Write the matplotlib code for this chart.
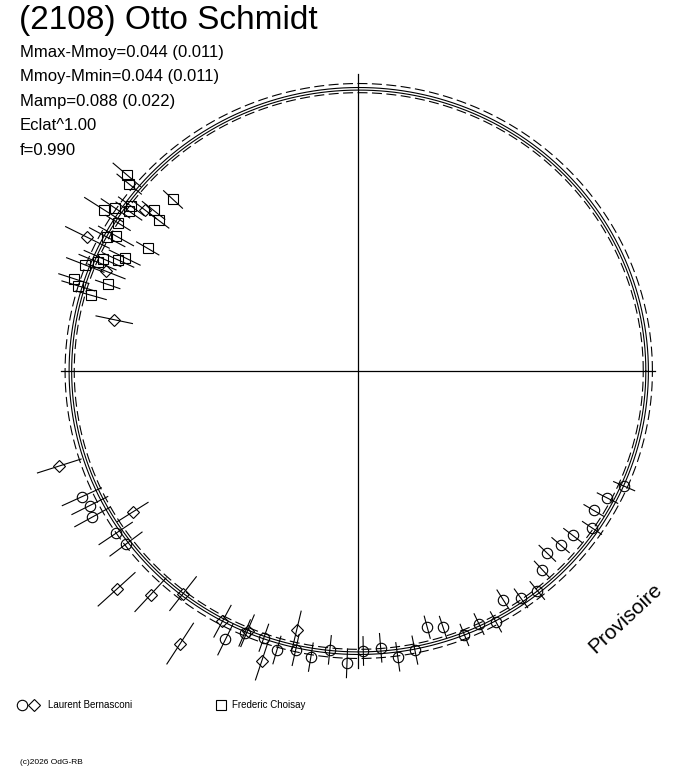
import numpy as np
import matplotlib
matplotlib.use('Agg')
import matplotlib.pyplot as plt

plt.rcParams['font.family'] = ['Liberation Sans', 'DejaVu Sans']

W, H = 688, 768
CX, CY = 358, 371   # pole of the diagram, pixels from top-left
SCALE = 286         # pixels for a relative brightness of 1
R_AXIS = 297 / SCALE

title = '(2108) Otto Schmidt'
stats = ['Mmax-Mmoy=0.044 (0.011)', 'Mmoy-Mmin=0.044 (0.011)',
         'Mamp=0.088 (0.022)', 'Eclat^1.00', 'f=0.990']
observers = ['Laurent Bernasconi', 'Frederic Choisay']

# fourier fit of the relative brightness vs phase
fit_mean = 1.0
fit_cos = [0.0026, 0.0108]
fit_sin = [0.0, 0.0]
fit_sigma = 0.016
fit_shift = [0.002, -0.007]   # the two solid curves

# Laurent Bernasconi, session 1 (circles)
lb1_phase = [0.568, 0.574, 0.580, 0.594, 0.602, 0.677, 0.685, 0.696, 0.705, 0.715,
             0.724, 0.734, 0.744, 0.753, 0.763, 0.772, 0.782, 0.792, 0.801, 0.811,
             0.821, 0.830, 0.840, 0.849, 0.859, 0.869, 0.878, 0.887, 0.896, 0.906,
             0.915, 0.925, 0.935]
lb1_flux = [1.061, 1.049, 1.060, 1.020, 1.012, 1.047, 0.998, 0.989, 1.016, 1.000,
            1.014, 0.980, 1.023, 0.979, 0.971, 1.009, 0.996, 0.928, 0.944, 0.995,
            0.981, 1.001, 0.947, 0.978, 0.991, 0.947, 0.919, 0.934, 0.946, 0.985,
            0.958, 0.979, 1.014]
lb1_err = [0.075, 0.070, 0.070, 0.070, 0.070, 0.060, 0.050, 0.050, 0.050, 0.055,
           0.050, 0.050, 0.050, 0.050, 0.050, 0.050, 0.050, 0.040, 0.040, 0.040,
           0.040, 0.040, 0.040, 0.040, 0.040, 0.040, 0.040, 0.040, 0.040, 0.040,
           0.040, 0.040, 0.040]

# Laurent Bernasconi, session 2 (diamonds)
lb2_phase = [0.427, 0.397, 0.440, 0.467, 0.549, 0.589, 0.617, 0.631, 0.644, 0.658,
             0.671, 0.686, 0.699, 0.713]
lb2_flux = [1.055, 0.934, 0.946, 0.871, 1.096, 0.929, 1.138, 1.067, 0.990, 1.138,
            0.995, 0.987, 1.068, 0.931]
lb2_err = [0.085, 0.050, 0.070, 0.065, 0.080, 0.063, 0.087, 0.080, 0.075, 0.085,
           0.063, 0.060, 0.070, 0.068]

# Frederic Choisay (squares)
fc_phase = [0.388, 0.391, 0.381, 0.410, 0.406, 0.400, 0.403, 0.394, 0.397, 0.412,
            0.422, 0.419, 0.416, 0.428, 0.431, 0.434, 0.437, 0.441, 0.450, 0.453,
            0.447, 0.456]
fc_flux = [1.060, 1.033, 0.882, 1.052, 1.021, 0.980, 0.977, 0.909, 0.874, 0.986,
           0.994, 0.969, 0.851, 0.907, 0.924, 0.976, 0.987, 1.023, 1.045, 1.022,
           0.926, 0.970]
fc_err = [0.063, 0.055, 0.045, 0.080, 0.060, 0.055, 0.055, 0.050, 0.045, 0.050,
          0.070, 0.070, 0.045, 0.060, 0.060, 0.070, 0.070, 0.070, 0.055, 0.060,
          0.045, 0.055]


def polar(phase, r):
    th = 2 * np.pi * np.asarray(phase)
    r = np.asarray(r)
    return r * np.cos(th), r * np.sin(th)


def fit(phase):
    th = 2 * np.pi * phase
    r = np.full_like(th, fit_mean)
    for k, (a, b) in enumerate(zip(fit_cos, fit_sin), start=1):
        r += a * np.cos(k * th) + b * np.sin(k * th)
    return r


def points(ax, phase, flux, err, marker, ms):
    phase = np.asarray(phase)
    flux = np.asarray(flux)
    err = np.asarray(err)
    for p, f, e in zip(phase, flux, err):
        x, y = polar([p, p], [f - e, f + e])
        ax.plot(x, y, color='black', lw=0.8, clip_on=False)
    x, y = polar(phase, flux)
    ax.plot(x, y, ls='none', marker=marker, ms=ms, mfc='none', mec='black',
            mew=0.8, clip_on=False)


fig = plt.figure(figsize=(W / 100, H / 100), dpi=100)
ax = fig.add_axes([0, 0, 1, 1])
ax.set_xlim(-CX / SCALE, (W - CX) / SCALE)
ax.set_ylim(-(H - CY) / SCALE, CY / SCALE)
ax.axis('off')

# cross through the pole
ax.plot([-R_AXIS, R_AXIS], [0, 0], color='black', lw=0.9)
ax.plot([0, 0], [-R_AXIS, R_AXIS], color='black', lw=0.9)

ph = np.linspace(0, 1, 721)
base = fit(ph)
for s in fit_shift:
    x, y = polar(ph, base + s)
    ax.plot(x, y, color='black', lw=0.8)
for s in (-fit_sigma, fit_sigma):
    x, y = polar(ph, base + s)
    ax.plot(x, y, color='black', lw=0.8, ls=(0, (9, 4)))

points(ax, lb1_phase, lb1_flux, lb1_err, 'o', 7.5)
points(ax, lb2_phase, lb2_flux, lb2_err, 'D', 6.5)
points(ax, fc_phase, fc_flux, fc_err, 's', 7)

# texts
def fx(px):
    return px / W


def fy(py):
    return 1 - py / H


fig.text(fx(19), fy(21), title, fontsize=24, va='center', ha='left')
for i, s in enumerate(stats):
    fig.text(fx(20), fy(52 + i * 24.6), s, fontsize=12, va='center', ha='left')

fig.text(fx(625), fy(618), 'Provisoire', fontsize=15, rotation=43,
         ha='center', va='center', rotation_mode='anchor')

# legend
leg_y = fy(705)
ax.plot([fx(22)], [leg_y], marker='o', ms=7.5, mfc='none', mec='black', mew=0.8,
        transform=fig.transFigure, clip_on=False)
ax.plot([fx(34)], [leg_y], marker='D', ms=6.5, mfc='none', mec='black', mew=0.8,
        transform=fig.transFigure, clip_on=False)
fig.text(fx(48), leg_y, observers[0], fontsize=7, va='center', ha='left')
ax.plot([fx(221)], [leg_y], marker='s', ms=6.5, mfc='none', mec='black', mew=0.8,
        transform=fig.transFigure, clip_on=False)
fig.text(fx(232), leg_y, observers[1], fontsize=7, va='center', ha='left')

fig.text(fx(20), fy(763), '(c)2026 OdG-RB', fontsize=6, va='center', ha='left')

fig.savefig('out.png', dpi=100)
